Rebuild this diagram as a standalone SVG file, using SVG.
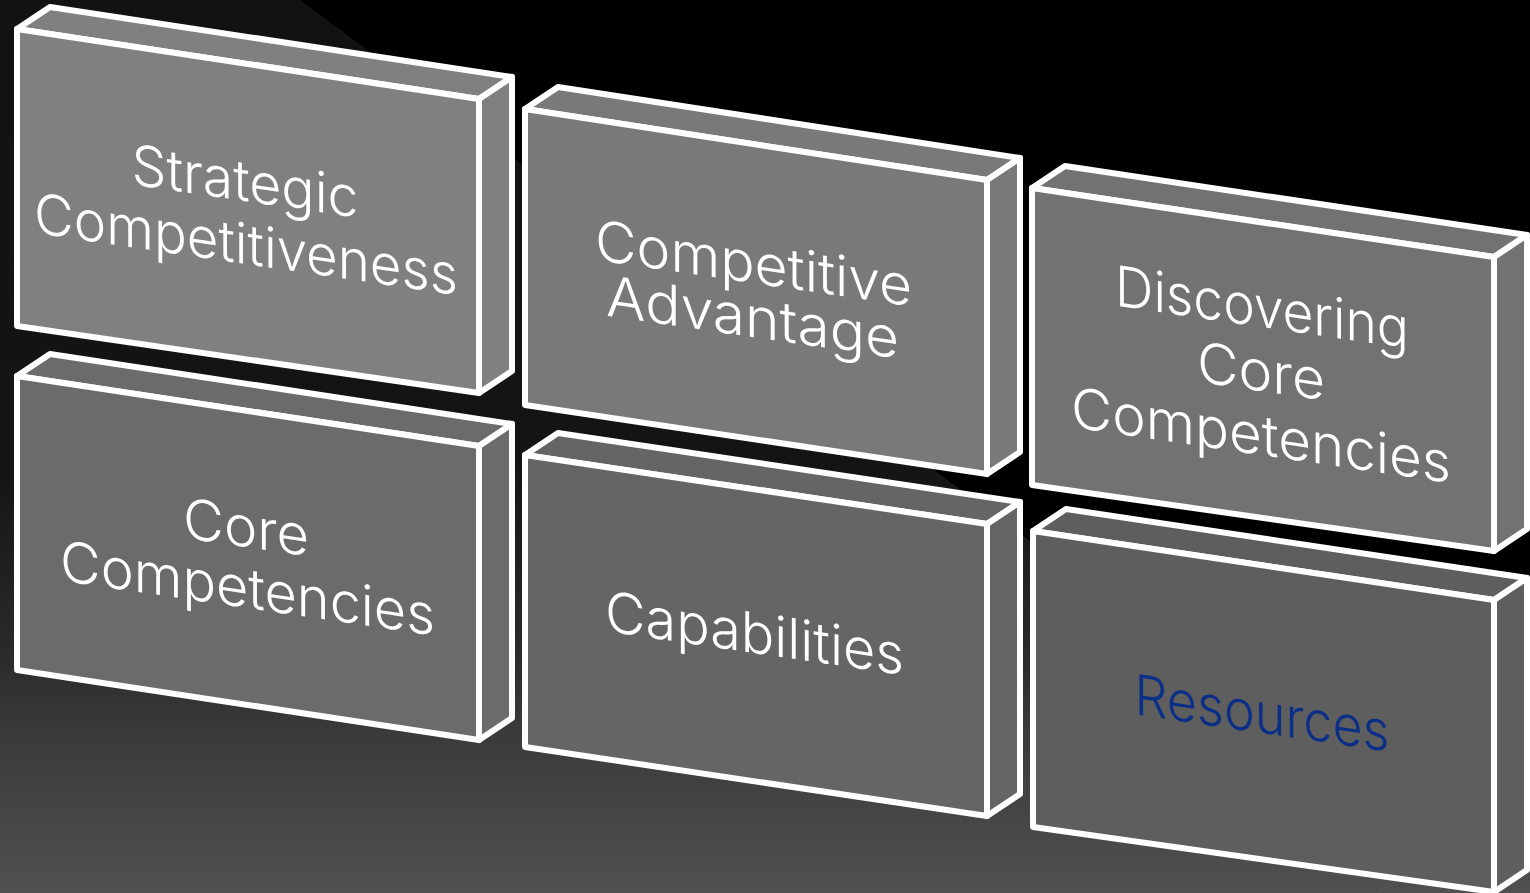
<svg xmlns="http://www.w3.org/2000/svg" width="1530" height="893" viewBox="0 0 1530 893">
  <defs>
    <linearGradient id="bgGrad" gradientUnits="userSpaceOnUse" x1="0" y1="0" x2="0" y2="893">
      <stop offset="0" stop-color="#121212"/>
      <stop offset="0.52" stop-color="#141414"/>
      <stop offset="0.73" stop-color="#2a2a2a"/>
      <stop offset="0.82" stop-color="#3a3a3a"/>
      <stop offset="1" stop-color="#505050"/>
    </linearGradient>
  </defs>
  <style>
    .face { stroke: #ffffff; stroke-width: 6; stroke-linejoin: round; }
    .lbl { font-family: Inter, "Open Sans", "DejaVu Sans", sans-serif; font-weight: 300; font-size: 56px; fill: #ffffff; text-anchor: middle; }
    .b1 { fill: #808080; }
    .b2 { fill: #797979; }
    .b3 { fill: #727272; }
    .b4 { fill: #6b6b6b; }
    .b5 { fill: #656565; }
    .b6 { fill: #5e5e5e; }
    .blue { fill: #0b2f86; }
  </style>

  <g id="background">
    <rect x="0" y="0" width="1530" height="893" fill="#000000"/>
    <polygon points="0,0 300,0 1444,848 1530,790 1530,893 0,893" fill="url(#bgGrad)"/>
    <line x1="1444" y1="848" x2="1378" y2="893" stroke="#5a5a5a" stroke-width="1"/>
  </g>

  <g id="connectors"/>

  <g id="node-strategic-competitiveness">
    <polygon class="face b1" points="17,29 50,7 512,77 479,99"/>
    <polygon class="face b1" points="479,99 512,77 512,371 479,393"/>
    <polygon class="face b1" points="17,29 479,99 479,393 17,326"/>
    <text class="lbl" transform="matrix(1,0.147,0,1,245,201)" textLength="227" lengthAdjust="spacingAndGlyphs">Strategic</text>
    <text class="lbl" transform="matrix(1,0.147,0,1,246,264)" textLength="424" lengthAdjust="spacingAndGlyphs">Competitiveness</text>
  </g>

  <g id="node-competitive-advantage">
    <polygon class="face b2" points="525,109 558,87 1020,158 987,180"/>
    <polygon class="face b2" points="987,180 1020,158 1020,452 987,474"/>
    <polygon class="face b2" points="525,109 987,180 987,474 525,405"/>
    <text class="lbl" transform="matrix(1,0.147,0,1,753.5,283)" textLength="317" lengthAdjust="spacingAndGlyphs">Competitive</text>
    <text class="lbl" transform="matrix(1,0.147,0,1,752.5,337)" textLength="293" lengthAdjust="spacingAndGlyphs">Advantage</text>
  </g>

  <g id="node-discovering-core-competencies">
    <polygon class="face b3" points="1032,188 1065,166 1527,235 1494,257"/>
    <polygon class="face b3" points="1494,257 1527,235 1527,529 1494,551"/>
    <polygon class="face b3" points="1032,188 1494,257 1494,551 1032,485"/>
    <text class="lbl" transform="matrix(1,0.147,0,1,1262,327)" textLength="294" lengthAdjust="spacingAndGlyphs">Discovering</text>
    <text class="lbl" transform="matrix(1,0.147,0,1,1261,391)" textLength="128" lengthAdjust="spacingAndGlyphs">Core</text>
    <text class="lbl" transform="matrix(1,0.147,0,1,1261,455)" textLength="380" lengthAdjust="spacingAndGlyphs">Competencies</text>
  </g>

  <g id="node-core-competencies">
    <polygon class="face b4" points="17,376 50,354 512,424 479,446"/>
    <polygon class="face b4" points="479,446 512,424 512,718 479,740"/>
    <polygon class="face b4" points="17,376 479,446 479,740 17,670"/>
    <text class="lbl" transform="matrix(1,0.147,0,1,246,547)" textLength="126" lengthAdjust="spacingAndGlyphs">Core</text>
    <text class="lbl" transform="matrix(1,0.147,0,1,247.5,608)" textLength="375" lengthAdjust="spacingAndGlyphs">Competencies</text>
  </g>

  <g id="node-capabilities">
    <polygon class="face b5" points="525,455 558,433 1020,502 987,524"/>
    <polygon class="face b5" points="987,524 1020,502 1020,794 987,816"/>
    <polygon class="face b5" points="525,455 987,524 987,816 525,747"/>
    <text class="lbl" transform="matrix(1,0.147,0,1,754.5,653)" textLength="299" lengthAdjust="spacingAndGlyphs">Capabilities</text>
  </g>

  <g id="node-resources">
    <polygon class="face b6" points="1033,531 1066,509 1527,578 1494,600"/>
    <polygon class="face b6" points="1494,600 1527,578 1527,870 1494,892"/>
    <polygon class="face b6" points="1033,531 1494,600 1494,892 1033,827"/>
    <text class="lbl blue" transform="matrix(1,0.147,0,1,1262,733)" textLength="255" lengthAdjust="spacingAndGlyphs">Resources</text>
  </g>
</svg>
